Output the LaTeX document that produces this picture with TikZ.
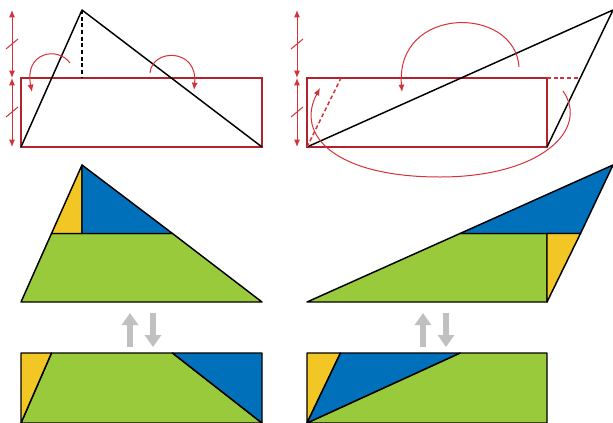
\documentclass[tikz,border=0pt]{standalone}
\usepackage{tikz}
\usetikzlibrary{arrows.meta,calc}
\definecolor{rectred}{RGB}{178,34,44}
\definecolor{arrred}{RGB}{214,48,58}
\definecolor{pieceyellow}{RGB}{242,198,36}
\definecolor{pieceblue}{RGB}{0,112,186}
\definecolor{piecegreen}{RGB}{153,202,60}
\definecolor{swapgray}{RGB}{192,192,192}

\begin{document}
\begin{tikzpicture}[x=0.75pt, y=-0.75pt,
  edge/.style={line width=1.1pt, line join=round},
  box/.style={draw=rectred, line width=1.5pt},
  turn/.style={draw=arrred, line width=0.75pt, -{Latex[length=5.5pt,width=4.5pt]}},
  span/.style={draw=arrred, line width=0.75pt, {Latex[length=5.5pt,width=4.5pt]}-{Latex[length=5.5pt,width=4.5pt]}},
  tick/.style={draw=arrred, line width=0.75pt},
  piece/.style={draw=black, line width=1.1pt, line join=round},
  swap/.style={draw=swapgray, line width=4.5pt, -{Triangle[length=9pt,width=12pt]}}]
  \useasboundingbox (0,0) rectangle (613,422);

  % top left
  \coordinate (la) at (21,147);
  \coordinate (lb) at (262,147);
  \coordinate (lc) at (82,10);
  \coordinate (lh) at (82,78);
  \coordinate (lt) at (12,10);
  \coordinate (lm) at (12,78);
  \coordinate (lu) at (12,147);

  \draw[box] (21,78) rectangle (lb);
  \draw[edge] (la)--(lc)--(lb);
  \draw[edge, dash pattern=on 3pt off 2pt] (lc)--(lh);
  \draw[span] (lt)--(lm);
  \draw[span] (lm)--(lu);
  \draw[tick] (6,49)--(18,39);
  \draw[tick] (6,117)--(18,107);
  \draw[turn] (70,63) .. controls (58,46) and (24,52) .. (32,92);
  \draw[turn] (150,73) .. controls (152,48) and (198,48) .. (194,90);

  % top right
  \coordinate (ra) at (307,147);
  \coordinate (rb) at (547,147);
  \coordinate (rc) at (613,10);
  \coordinate (rt) at (297,10);
  \coordinate (rm) at (297,78);
  \coordinate (ru) at (297,147);

  \draw[box] (307,78) rectangle (rb);
  \draw[edge] (ra)--(rc)--(rb);
  \draw[arrred, line width=1.1pt, dash pattern=on 3pt off 2pt] (ra)--(341,78);
  \draw[arrred, line width=1.1pt, dash pattern=on 3pt off 2pt] (547,78)--(580,78);
  \draw[span] (rt)--(rm);
  \draw[span] (rm)--(ru);
  \draw[tick] (291,49)--(303,39);
  \draw[tick] (291,117)--(303,107);
  \draw[turn] (519,67) .. controls (515,5) and (395,5) .. (402,92);
  \draw[turn] (563,91) .. controls (590,130) and (540,177) .. (440,177)
              .. controls (335,177) and (295,135) .. (320,88);

  % middle left
  \coordinate (ma) at (21,302);
  \coordinate (mb) at (262,302);
  \coordinate (mc) at (82,165);
  \coordinate (ml) at (51.5,233.5);
  \coordinate (mm) at (82,233.5);
  \coordinate (mr) at (172.5,233.5);

  \filldraw[piece, fill=piecegreen] (ma)--(ml)--(mr)--(mb)--cycle;
  \filldraw[piece, fill=pieceyellow] (ml)--(mc)--(mm)--cycle;
  \filldraw[piece, fill=pieceblue] (mm)--(mc)--(mr)--cycle;

  % middle right
  \coordinate (na) at (307,302);
  \coordinate (nb) at (547,302);
  \coordinate (nc) at (613,165);
  \coordinate (nl) at (460,233.5);
  \coordinate (nm) at (547,233.5);
  \coordinate (nr) at (580.5,233.5);

  \filldraw[piece, fill=piecegreen] (na)--(nl)--(nm)--(nb)--cycle;
  \filldraw[piece, fill=pieceblue] (nl)--(nc)--(nr)--cycle;
  \filldraw[piece, fill=pieceyellow] (nm)--(nr)--(nb)--cycle;

  % swap arrows
  \draw[swap] (130,347)--(130,313);
  \draw[swap] (153,313)--(153,347);
  \draw[swap] (423,347)--(423,313);
  \draw[swap] (446,313)--(446,347);

  % bottom left
  \coordinate (pa) at (21,423);
  \coordinate (pb) at (262,423);
  \coordinate (pc) at (21,353);
  \coordinate (pd) at (262,353);
  \coordinate (pl) at (51.5,353);
  \coordinate (pr) at (172.5,353);

  \filldraw[piece, fill=piecegreen] (pl)--(pr)--(pb)--(pa)--cycle;
  \filldraw[piece, fill=pieceyellow] (pc)--(pl)--(pa)--cycle;
  \filldraw[piece, fill=pieceblue] (pr)--(pd)--(pb)--cycle;

  % bottom right
  \coordinate (qa) at (307,423);
  \coordinate (qb) at (547,423);
  \coordinate (qc) at (307,353);
  \coordinate (qd) at (547,353);
  \coordinate (ql) at (340.5,353);
  \coordinate (qr) at (460,353);

  \filldraw[piece, fill=piecegreen] (qr)--(qd)--(qb)--(qa)--cycle;
  \filldraw[piece, fill=pieceyellow] (qc)--(ql)--(qa)--cycle;
  \filldraw[piece, fill=pieceblue] (ql)--(qr)--(qa)--cycle;
\end{tikzpicture}
\end{document}
